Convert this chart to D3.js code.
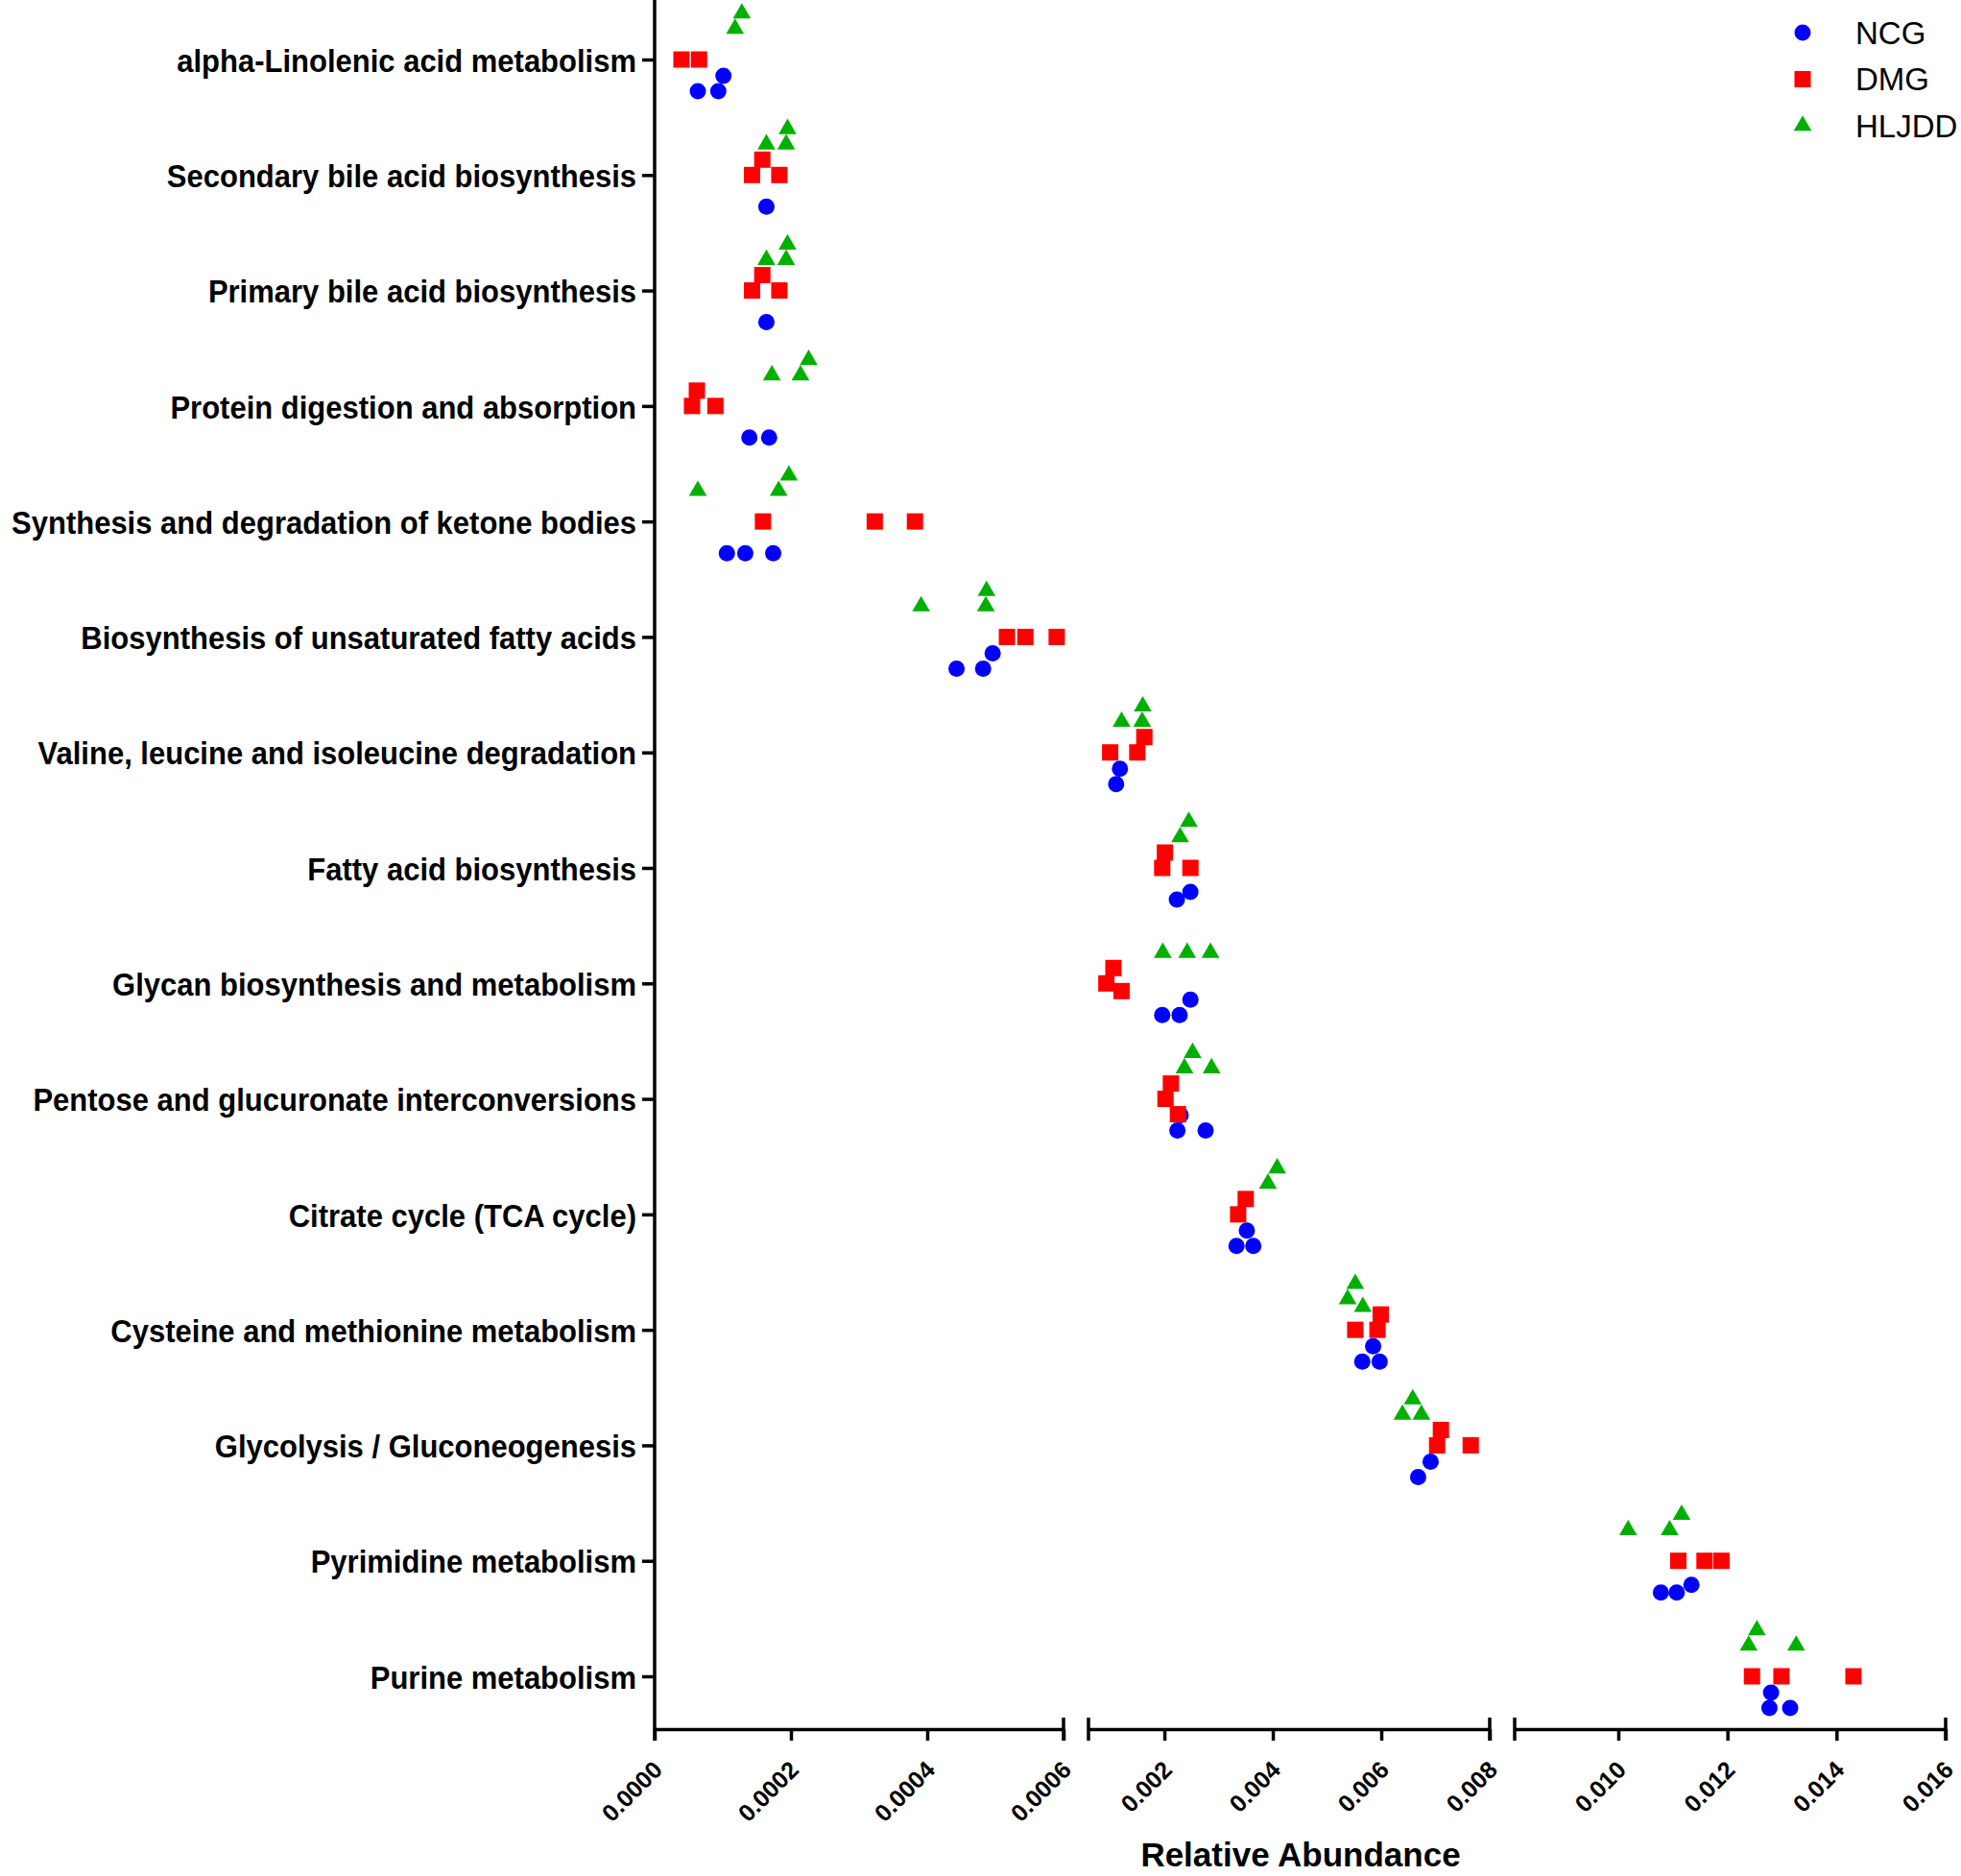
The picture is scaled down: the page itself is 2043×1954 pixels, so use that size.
<!DOCTYPE html>
<html>
<head>
<meta charset="utf-8">
<script src="https://cdn.jsdelivr.net/npm/d3@7"></script>
<style>
  body { margin: 0; background: #fff; }
  text { font-family: "Liberation Sans", Arial, sans-serif; }
</style>
</head>
<body>
<svg id="chart"></svg>
<script>
// categories (top to bottom)
var categories = [
    "alpha-Linolenic acid metabolism",
    "Secondary bile acid biosynthesis",
    "Primary bile acid biosynthesis",
    "Protein digestion and absorption",
    "Synthesis and degradation of ketone bodies",
    "Biosynthesis of unsaturated fatty acids",
    "Valine, leucine and isoleucine degradation",
    "Fatty acid biosynthesis",
    "Glycan biosynthesis and metabolism",
    "Pentose and glucuronate interconversions",
    "Citrate cycle (TCA cycle)",
    "Cysteine and methionine metabolism",
    "Glycolysis / Gluconeogenesis",
    "Pyrimidine metabolism",
    "Purine metabolism"
];

// relative abundance per sample, one list per category
var ncgValues = [
    [0.0000634, 0.0000934, 0.000101],
    [0.000164],
    [0.000164],
    [0.000139, 0.000168],
    [0.000106, 0.000133, 0.000174],
    [0.000443, 0.000482, 0.000496],
    [0.00111, 0.00118],
    [0.00223, 0.00248],
    [0.00196, 0.00228, 0.00248],
    [0.00224, 0.00230, 0.00276],
    [0.00333, 0.00352, 0.00364],
    [0.00565, 0.00585, 0.00597],
    [0.00668, 0.00691],
    [0.01078, 0.01107, 0.01134],
    [0.01277, 0.01280, 0.01315]
];
var dmgValues = [
    [0.0000394, 0.0000652],
    [0.000143, 0.000158, 0.000183],
    [0.000143, 0.000158, 0.000183],
    [0.0000549, 0.0000620, 0.0000892],
    [0.000159, 0.000323, 0.000382],
    [0.000517, 0.000544, 0.000590],
    [0.00100, 0.00150, 0.00163],
    [0.00196, 0.00201, 0.00248],
    [0.00093, 0.00106, 0.00121],
    [0.00202, 0.00212, 0.00225],
    [0.00336, 0.00350],
    [0.00552, 0.00593, 0.00599],
    [0.00703, 0.00710, 0.00765],
    [0.01110, 0.01158, 0.01189],
    [0.01245, 0.01299, 0.01431]
];
var hljddValues = [
    [0.000118, 0.000128],
    [0.000164, 0.000193, 0.000195],
    [0.000164, 0.000193, 0.000195],
    [0.000172, 0.000214, 0.000226],
    [0.0000634, 0.000182, 0.000197],
    [0.000391, 0.000486, 0.000487],
    [0.00121, 0.00159, 0.00160],
    [0.00229, 0.00245],
    [0.00197, 0.00242, 0.00285],
    [0.00237, 0.00252, 0.00287],
    [0.00391, 0.00408],
    [0.00538, 0.00552, 0.00566],
    [0.00639, 0.00658, 0.00674],
    [0.01018, 0.01094, 0.01116],
    [0.01239, 0.01254, 0.01326]
];

var seriesNames = ["NCG", "DMG", "HLJDD"];

// broken x axis: three segments
var segDomains = [[0, 0.0006], [0.0006, 0.008], [0.0081, 0.016]];
var segTicks = [[0, 0.0002, 0.0004, 0.0006], [0.002, 0.004, 0.006, 0.008], [0.010, 0.012, 0.014, 0.016]];
var segTickDigits = [4, 3, 3];

var width = 2043, height = 1954;
var axisLeftX = 682, axisY = 1801;
var segRanges = [[682, 1108], [1134, 1552], [1578, 2027]];

var svg = d3.select("#chart")
    .attr("width", width)
    .attr("height", height);

svg.append("rect").attr("width", width).attr("height", height).attr("fill", "#fff");

// x scales
var xScales = segDomains.map(function(d, i){
    return d3.scaleLinear().domain(d).range(segRanges[i]);
});
function xPos(v){
    if (v <= segDomains[0][1]) return xScales[0](v);
    if (v <= segDomains[1][1]) return xScales[1](v);
    return xScales[2](v);
}

// y scale
var yScale = d3.scalePoint()
    .domain(categories)
    .range([62, 1746]);

var groupOffset = {NCG: 33, DMG: 0, HLJDD: -32};
var colors = {NCG: "#0000ff", DMG: "#ff0000", HLJDD: "#00b000"};
var symbols = {
    NCG: d3.symbol().type(d3.symbolCircle).size(Math.PI * 8.5 * 8.5),
    DMG: d3.symbol().type(d3.symbolSquare).size(17 * 17),
    HLJDD: d3.symbol().type(d3.symbolTriangle).size(150)
};

// build points with a vertical dodge (column-scatter style)
var points = [];
var allValues = {NCG: ncgValues, DMG: dmgValues, HLJDD: hljddValues};
var minDist = 16, step = 8;
categories.forEach(function(cat, ci){
    seriesNames.forEach(function(s){
        var vals = allValues[s][ci].slice().sort(d3.ascending);
        var placed = [];
        vals.forEach(function(v){
            var x = xPos(v);
            var base = yScale(cat) + groupOffset[s];
            var k = 0, off = 0;
            while (true) {
                off = (k === 0) ? 0 : (k % 2 === 1 ? -1 : 1) * Math.ceil(k / 2) * step;
                var ok = placed.every(function(p){
                    var dx = p.x - x, dy = p.y - (base + off);
                    return Math.sqrt(dx * dx + dy * dy) >= minDist;
                });
                if (ok || k > 10) break;
                k++;
            }
            var pt = {series: s, value: v, x: x, y: base + off};
            placed.push(pt);
            points.push(pt);
        });
    });
});

//draw points
svg.append("g").selectAll("path")
    .data(points)
    .enter()
    .append("path")
    .attr("d", d => symbols[d.series]())
    .attr("transform", d => `translate(${d.x},${d.y})`)
    .attr("fill", d => colors[d.series]);

//Y axis
var yAxis = d3.axisLeft(yScale).tickSize(13).tickPadding(6);
var yAxisGroup = svg.append("g")
    .attr("transform", `translate(${axisLeftX},0)`)
    .call(yAxis);
yAxisGroup.select(".domain").remove();
yAxisGroup.selectAll(".tick line").attr("stroke", "#000").attr("stroke-width", 3.5);
yAxisGroup.selectAll(".tick text")
    .attr("fill", "#000")
    .attr("font-size", "31px")
    .attr("font-weight", "bold")
    .attr("font-family", "'Liberation Sans', Arial, sans-serif")
    .attr("dy", "0.36em")
    .attr("transform", "scale(1,1.1)");

svg.append("line")
    .attr("x1", axisLeftX).attr("x2", axisLeftX)
    .attr("y1", 0).attr("y2", axisY + 12)
    .attr("stroke", "#000").attr("stroke-width", 3.5);

//X axis segments
xScales.forEach(function(sc, i){
    var ax = d3.axisBottom(sc)
        .tickValues(segTicks[i])
        .tickSize(12)
        .tickSizeOuter(0)
        .tickFormat(d3.format("." + segTickDigits[i] + "f"));
    var g = svg.append("g")
        .attr("transform", `translate(0,${axisY})`)
        .call(ax);
    g.select(".domain").attr("stroke", "#000").attr("stroke-width", 3.5);
    g.selectAll(".tick line").attr("stroke", "#000").attr("stroke-width", 3.5);
    g.selectAll(".tick text")
        .attr("fill", "#000")
        .attr("font-size", "25px")
        .attr("font-weight", "bold")
        .attr("font-family", "'Liberation Sans', Arial, sans-serif")
        .attr("text-anchor", "end")
        .attr("x", 0).attr("y", 0).attr("dy", null)
        .attr("transform", "translate(9,44) rotate(-45)");

    // break marks at segment ends
    var ends = sc.range();
    ends.forEach(function(e, j){
        if ((i === 0 && j === 0)) return;
        svg.append("line")
            .attr("x1", e).attr("x2", e)
            .attr("y1", axisY - 12).attr("y2", axisY + 12)
            .attr("stroke", "#000").attr("stroke-width", 3.5);
    });
});

//X label
svg.append("text")
    .attr("x", 1355)
    .attr("y", 1944)
    .attr("font-size", "35px")
    .attr("font-weight", "bold")
    .attr("text-anchor", "middle")
    .text("Relative Abundance");

//legend
var legend = svg.append("g");
seriesNames.forEach(function(s, i){
    var ly = 34 + i * 48.5;
    legend.append("path")
        .attr("d", symbols[s]())
        .attr("transform", `translate(1878,${ly})`)
        .attr("fill", colors[s]);
    legend.append("text")
        .attr("x", 1933)
        .attr("y", ly)
        .attr("dy", "0.36em")
        .attr("font-size", "33px")
        .text(s);
});
</script>
</body>
</html>
